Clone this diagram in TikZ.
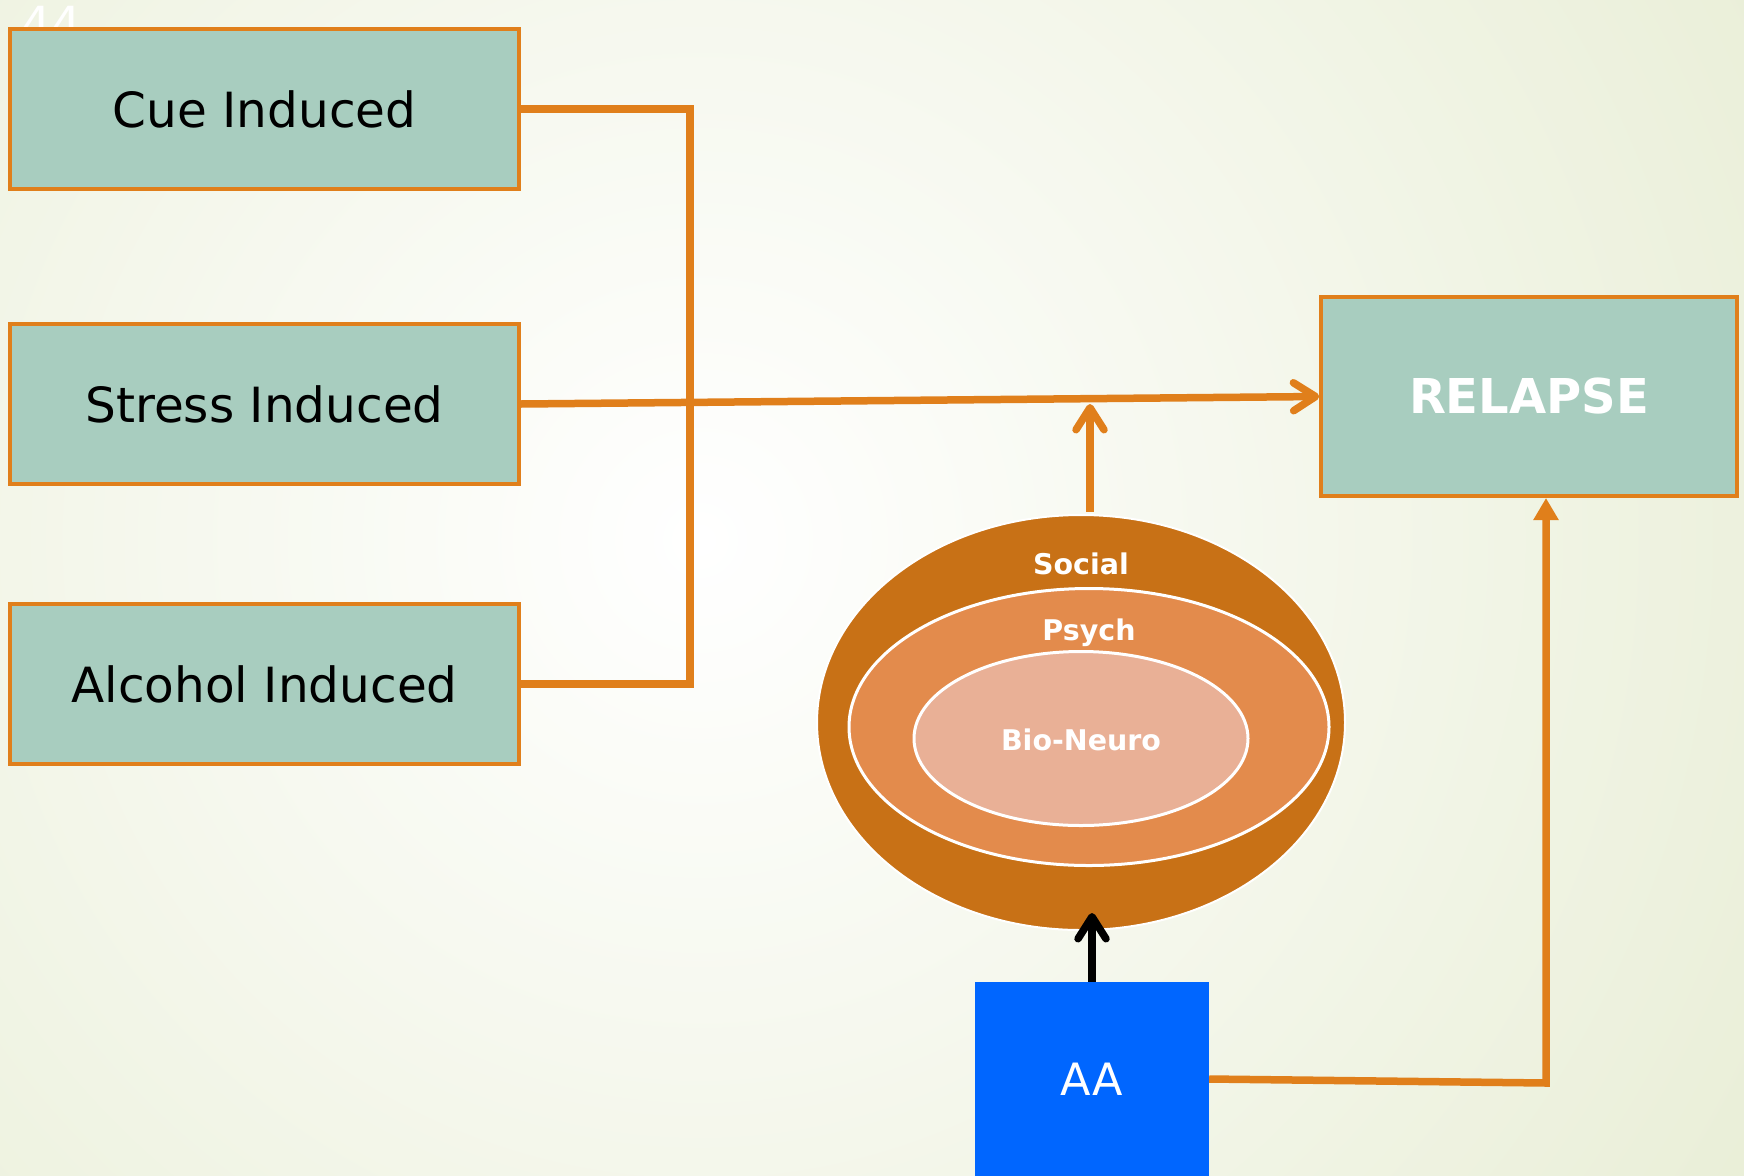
\documentclass[tikz,border=0pt]{standalone}
\usepackage{fontspec}
\setmainfont{DejaVu Sans}
\usetikzlibrary{arrows.meta,shapes.geometric,calc}
\definecolor{boxfill}{HTML}{A8CDBF}
\definecolor{orng}{HTML}{E07F1B}
\definecolor{socialc}{HTML}{C87116}
\definecolor{psychc}{HTML}{E38B4C}
\definecolor{bioc}{HTML}{E9B096}
\definecolor{aablue}{HTML}{0066FF}
\definecolor{bgout}{HTML}{E2E9CA}
\tikzset{
  causebox/.style={draw=orng, line width=3.5pt, fill=boxfill, minimum width=509pt, minimum height=160pt, inner sep=0pt, font=\fontsize{48.5}{52}\selectfont, text=black},
  conn/.style={draw=orng, line width=7.5pt},
  barb/.style={-{Straight Barb[length=22pt,width=28pt,line cap=round,round]}},
  ringlabel/.style={text=white, font=\bfseries\fontsize{28.5}{30}\selectfont, inner sep=0pt}
}
\begin{document}
\begin{tikzpicture}[x=1pt,y=-1pt]
\useasboundingbox (0,0) rectangle (1744,1175);
% background
\begin{scope}
\clip (0,0) rectangle (1744,1175);
\shade[inner color=white, outer color=bgout] (700,540) circle (1650);
\end{scope}
% page number (partly hidden behind the first box)
\node[anchor=base west, text=white, font=\fontsize{47}{47}\selectfont, inner sep=0pt] (pgnum) at (21,40) {44};
% cause boxes
\node[causebox] (cue) at (264.5,109) {Cue Induced};
\node[causebox] (stress) at (264.5,404) {Stress Induced};
\node[causebox] (alcohol) at (264.5,684) {Alcohol Induced};
% relapse
\node[draw=orng, line width=3.5pt, fill=boxfill, minimum width=416pt, minimum height=199pt, inner sep=0pt, text=white, font=\bfseries\fontsize{48}{52}\selectfont] (relapse) at (1529,396.5) {RELAPSE};
% ellipses
\node[ellipse, fill=socialc, draw=white, line width=2pt, minimum width=528pt, minimum height=415pt, inner sep=0pt] (social) at (1081,722.5) {};
\node[ellipse, fill=psychc, draw=white, line width=3pt, minimum width=480pt, minimum height=277pt, inner sep=0pt] (psych) at (1089,727) {};
\node[ellipse, fill=bioc, draw=white, line width=3pt, minimum width=334pt, minimum height=174pt, inner sep=0pt] (bio) at (1081,738.5) {};
\node[ringlabel] (socialtxt) at (1081,564) {Social};
\node[ringlabel] (psychtxt) at (1089,632.5) {Psych};
\node[ringlabel] (biotxt) at (1081,740) {Bio-Neuro};
% AA
\node[fill=aablue, minimum width=234pt, minimum height=200pt, inner sep=0pt] (aa) at (1092,1082) {};
\node[text=white, font=\fontsize{44.5}{48}\selectfont, inner sep=0pt] (aatxt) at (1092,1079) {AA};
% connectors
\coordinate (jc) at (690,109);
\coordinate (ja) at (690,684);
\coordinate (arrtip) at (1090,404);
\coordinate (aacorner) at (1546,1083);
\coordinate (relin) at (1546,498);
\draw[conn] (cue.east) -- (jc) -- (ja) -- (alcohol.east);
\draw[conn, barb] (stress.east) -- (relapse.west);
\draw[conn, barb] (social.north -| arrtip) ++(0,-2) -- (arrtip);
\draw[line width=7.5pt, draw=black, barb] (aa.north) -- (1092,913);
\draw[conn, -{Triangle[length=22pt,width=24pt]}] (aa.east |- aatxt) -- (aacorner) -- (relin);
\end{tikzpicture}
\end{document}
